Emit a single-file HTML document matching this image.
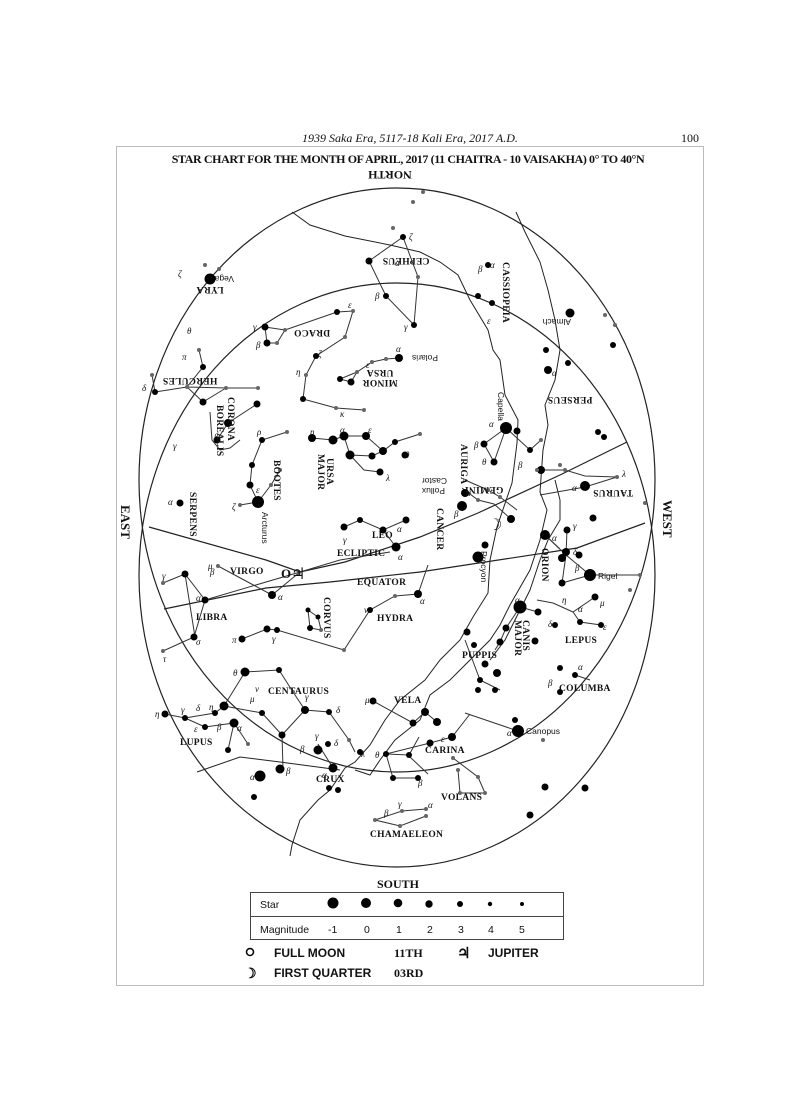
<!DOCTYPE html>
<html><head><meta charset="utf-8"><style>
html,body{margin:0;padding:0;background:#fff;}
svg{display:block;}
text{font-family:"Liberation Serif",serif;fill:#111;}
.s text, text.s{font-family:"Liberation Sans",sans-serif;}
.lb{font-size:9.5px;font-weight:bold;letter-spacing:0.3px;}
.g{font-size:9px;font-style:italic;}
</style></head><body>
<svg width="791" height="1119" viewBox="0 0 791 1119" xmlns="http://www.w3.org/2000/svg">
<text x="410" y="142" font-size="12" font-style="italic" text-anchor="middle">1939 Saka Era, 5117-18 Kali Era, 2017 A.D.</text>
<text x="690" y="142" font-size="12" text-anchor="middle">100</text>
<rect x="116.5" y="146.5" width="587" height="839" fill="none" stroke="#bbb" stroke-width="1"/>
<text x="408" y="163" font-size="12" font-weight="bold" text-anchor="middle" letter-spacing="-0.4">STAR CHART FOR THE MONTH OF APRIL, 2017 (11 CHAITRA - 10 VAISAKHA) 0° TO 40°N</text>
<text transform="translate(390,171) rotate(180)" font-size="12" font-weight="bold" text-anchor="middle">NORTH</text>

<g fill="none" stroke="#222" stroke-width="1.2">
<ellipse cx="397" cy="480" rx="258" ry="292"/>
<ellipse cx="397" cy="575" rx="258" ry="292"/>
<polyline points="149,527 266,560 300,572 345,562 420,537 478,513 560,475 627,442"/>
<polyline points="164,609 266,588 330,582 420,572 577,548 645,523"/>
<polyline stroke-width="1" points="292,212 310,225 345,236 390,245 420,252 440,262 458,275 470,300 488,330 493,350 500,360 505,395 518,420 517,443 512,483 497,527 490,560 488,593 473,617 460,640 440,660 425,680 400,700 385,720 370,745 355,762 345,768 330,790 318,800 300,820 292,845 290,856"/>
<polyline stroke-width="1" points="516,212 525,232 540,262 548,290 555,320 560,350 555,380 545,405 548,425 543,450 540,492 547,510 540,540 530,570 510,605 500,625 490,640 470,660 450,680 430,695 420,720 395,740 380,760 370,775 355,770"/>
<polyline stroke-width="1" points="197,772 240,757 280,762 340,770"/>
<polyline stroke-width="1" points="555,480 560,500 560,520 548,540 540,560 530,590 520,610 505,640 490,660"/>
</g>

<g fill="none" stroke="#333" stroke-width="1">
<polyline points="369,261 403,237 418,277 414,325 386,296 369,261"/>
<polyline points="265,327 285,330 277,343 267,343 265,327"/>
<polyline points="285,330 337,312 353,311 345,337 316,356 306,375 303,399 336,408 364,410"/>
<polyline points="399,358 386,359 372,362 357,372 340,379 351,382 357,372"/>
<polyline points="155,392 187,387 226,388 258,388"/>
<polyline points="199,350 203,367 187,387 203,402 226,388"/>
<polyline points="152,375 155,392"/>
<polyline points="257,404 228,423 217,440"/>
<polyline points="210,412 212,440 220,450 230,448 240,440"/>
<polyline points="258,502 250,485 252,465 262,440 287,432"/>
<polyline points="258,502 271,485 280,470"/>
<polyline points="240,505 258,502"/>
<polyline points="312,438 333,440 344,436 366,436 383,451 395,442 420,434"/>
<polyline points="344,436 350,455 372,456 383,451"/>
<polyline points="350,455 364,470 380,472"/>
<polyline points="506,428 494,462 484,444 506,428 530,450 541,440"/>
<polyline points="465,480 488,490 500,497 517,510"/>
<polyline points="462,488 478,500 494,504 511,519"/>
<polyline points="540,495 585,487 617,477"/>
<polyline points="537,470 565,470 585,476 617,477"/>
<polyline points="545,535 566,555 562,583 590,575 566,555 567,530"/>
<polyline points="545,535 560,549"/>
<polyline points="590,575 640,575"/>
<polyline points="520,607 538,612"/>
<polyline points="520,607 506,628 500,642 495,650"/>
<polyline points="537,600 553,603 573,612 595,597"/>
<polyline points="573,612 580,622 601,625"/>
<polyline points="344,527 360,520 383,530 406,520"/>
<polyline points="383,530 396,547"/>
<polyline points="218,566 272,595 300,572"/>
<polyline points="163,583 185,574 205,600 194,637 163,651"/>
<polyline points="185,574 195,637"/>
<polyline points="205,600 300,572 340,560 390,552"/>
<polyline points="308,610 318,617 321,630 310,628 308,610"/>
<polyline points="242,639 267,629 277,630 344,650"/>
<polyline points="344,650 370,610 395,596 418,594 428,565"/>
<polyline points="245,672 279,670 293,692 305,710 329,712 349,740 355,752"/>
<polyline points="245,672 224,706 262,713 282,735 283,769"/>
<polyline points="305,710 282,735"/>
<polyline points="165,714 185,718 215,713 224,706"/>
<polyline points="185,718 205,727 234,723 228,750"/>
<polyline points="234,723 248,744"/>
<polyline points="318,744 333,768"/>
<polyline points="373,701 413,723 425,712 437,722"/>
<polyline points="386,754 430,743 452,737 470,714"/>
<polyline points="386,754 393,778 418,778"/>
<polyline points="386,754 409,755 419,737"/>
<polyline points="410,757 428,774"/>
<polyline points="453,758 478,777 485,793 460,793 458,770"/>
<polyline points="375,820 402,811 426,809"/>
<polyline points="375,820 400,826 426,816"/>
<polyline points="518,731 465,713"/>
<polyline points="465,640 480,680 500,690"/>
<polyline points="575,675 590,680"/>
</g>

<g fill="#000">
<circle cx="210" cy="279" r="5.5"/><circle cx="399" cy="358" r="4"/><circle cx="369" cy="261" r="3.5"/>
<circle cx="403" cy="237" r="3"/><circle cx="414" cy="325" r="3"/><circle cx="386" cy="296" r="3"/>
<circle cx="265" cy="327" r="3.5"/><circle cx="267" cy="343" r="3.5"/><circle cx="337" cy="312" r="3"/>
<circle cx="316" cy="356" r="3"/><circle cx="303" cy="399" r="3"/><circle cx="351" cy="382" r="3.5"/>
<circle cx="340" cy="379" r="3"/><circle cx="155" cy="392" r="3"/><circle cx="203" cy="402" r="3.5"/>
<circle cx="203" cy="367" r="3"/><circle cx="257" cy="404" r="3.5"/><circle cx="228" cy="423" r="4"/>
<circle cx="217" cy="440" r="3.5"/><circle cx="258" cy="502" r="6"/><circle cx="252" cy="465" r="3"/>
<circle cx="250" cy="485" r="3.5"/><circle cx="262" cy="440" r="3"/><circle cx="180" cy="503" r="3.5"/>
<circle cx="312" cy="438" r="4"/><circle cx="333" cy="440" r="4.5"/><circle cx="344" cy="436" r="4.5"/>
<circle cx="366" cy="436" r="4"/><circle cx="383" cy="451" r="4"/><circle cx="350" cy="455" r="4.5"/>
<circle cx="372" cy="456" r="3.5"/><circle cx="395" cy="442" r="3"/><circle cx="380" cy="472" r="3.5"/>
<circle cx="405" cy="455" r="3.5"/><circle cx="506" cy="428" r="6"/><circle cx="494" cy="462" r="3.5"/>
<circle cx="484" cy="444" r="3.5"/><circle cx="517" cy="431" r="3.5"/><circle cx="530" cy="450" r="3"/>
<circle cx="541" cy="470" r="4"/><circle cx="465" cy="493" r="4"/><circle cx="462" cy="506" r="5"/>
<circle cx="511" cy="519" r="4"/><circle cx="478" cy="557" r="5.5"/><circle cx="485" cy="545" r="3.5"/>
<circle cx="585" cy="486" r="5"/><circle cx="593" cy="518" r="3.5"/><circle cx="545" cy="535" r="5"/>
<circle cx="567" cy="530" r="3.5"/><circle cx="566" cy="552" r="4"/><circle cx="562" cy="558" r="4"/>
<circle cx="579" cy="555" r="3.5"/><circle cx="590" cy="575" r="6"/><circle cx="562" cy="583" r="3.5"/>
<circle cx="570" cy="313" r="4.5"/><circle cx="548" cy="370" r="4"/><circle cx="568" cy="363" r="3"/>
<circle cx="488" cy="265" r="3"/><circle cx="478" cy="296" r="3"/><circle cx="492" cy="303" r="3"/>
<circle cx="520" cy="607" r="6.5"/><circle cx="538" cy="612" r="3.5"/><circle cx="506" cy="628" r="3.5"/>
<circle cx="500" cy="642" r="3.5"/><circle cx="535" cy="641" r="3.5"/><circle cx="595" cy="597" r="3.5"/>
<circle cx="601" cy="625" r="3"/><circle cx="555" cy="625" r="3"/><circle cx="580" cy="622" r="3"/>
<circle cx="344" cy="527" r="3.5"/><circle cx="360" cy="520" r="3"/><circle cx="383" cy="530" r="3.5"/>
<circle cx="406" cy="520" r="3.5"/><circle cx="396" cy="547" r="4.5"/><circle cx="272" cy="595" r="4"/>
<circle cx="185" cy="574" r="3.5"/><circle cx="205" cy="600" r="3.5"/><circle cx="194" cy="637" r="3.5"/>
<circle cx="308" cy="610" r="2.5"/><circle cx="318" cy="617" r="2.5"/><circle cx="310" cy="628" r="3"/>
<circle cx="242" cy="639" r="3.5"/><circle cx="267" cy="629" r="3.5"/><circle cx="277" cy="630" r="3"/>
<circle cx="370" cy="610" r="3"/><circle cx="418" cy="594" r="4"/><circle cx="245" cy="672" r="4.5"/>
<circle cx="279" cy="670" r="3"/><circle cx="224" cy="706" r="4.5"/><circle cx="262" cy="713" r="3"/>
<circle cx="282" cy="735" r="3.5"/><circle cx="305" cy="710" r="4"/><circle cx="329" cy="712" r="3"/>
<circle cx="360" cy="752" r="3"/><circle cx="165" cy="714" r="3.5"/><circle cx="185" cy="718" r="3"/>
<circle cx="215" cy="713" r="3"/><circle cx="234" cy="723" r="4.5"/><circle cx="205" cy="727" r="3"/>
<circle cx="228" cy="750" r="3"/><circle cx="260" cy="776" r="5.5"/><circle cx="280" cy="769" r="4.5"/>
<circle cx="333" cy="768" r="4.5"/><circle cx="318" cy="750" r="4.5"/><circle cx="328" cy="744" r="3"/>
<circle cx="329" cy="788" r="3"/><circle cx="338" cy="790" r="3"/><circle cx="254" cy="797" r="3"/>
<circle cx="518" cy="731" r="6"/><circle cx="515" cy="720" r="3"/><circle cx="373" cy="701" r="3.5"/>
<circle cx="413" cy="723" r="3.5"/><circle cx="425" cy="712" r="4"/><circle cx="437" cy="722" r="4"/>
<circle cx="452" cy="737" r="4"/><circle cx="430" cy="743" r="3.5"/><circle cx="386" cy="754" r="3"/>
<circle cx="393" cy="778" r="3"/><circle cx="418" cy="778" r="3"/><circle cx="409" cy="755" r="3"/>
<circle cx="467" cy="632" r="3.5"/><circle cx="474" cy="645" r="3"/><circle cx="485" cy="664" r="3.5"/>
<circle cx="497" cy="673" r="4"/><circle cx="478" cy="690" r="3"/><circle cx="495" cy="690" r="3"/>
<circle cx="480" cy="680" r="3"/><circle cx="545" cy="787" r="3.5"/><circle cx="585" cy="788" r="3.5"/>
<circle cx="530" cy="815" r="3.5"/><circle cx="560" cy="668" r="3"/><circle cx="575" cy="675" r="3"/>
<circle cx="560" cy="692" r="3"/><circle cx="598" cy="432" r="3"/><circle cx="604" cy="437" r="3"/>
<circle cx="613" cy="345" r="3"/><circle cx="546" cy="350" r="3"/>
</g>
<g fill="#666">
<circle cx="423" cy="192" r="2"/><circle cx="413" cy="202" r="2"/><circle cx="393" cy="228" r="2"/>
<circle cx="418" cy="277" r="2"/><circle cx="219" cy="269" r="2"/><circle cx="205" cy="265" r="2"/>
<circle cx="277" cy="343" r="2"/><circle cx="285" cy="330" r="2"/><circle cx="353" cy="311" r="2"/>
<circle cx="345" cy="337" r="2"/><circle cx="306" cy="375" r="2"/><circle cx="336" cy="408" r="2"/>
<circle cx="364" cy="410" r="2"/><circle cx="386" cy="359" r="2"/><circle cx="372" cy="362" r="2"/>
<circle cx="357" cy="372" r="2"/><circle cx="199" cy="350" r="2"/><circle cx="187" cy="387" r="2"/>
<circle cx="226" cy="388" r="2"/><circle cx="258" cy="388" r="2"/><circle cx="152" cy="375" r="2"/>
<circle cx="240" cy="505" r="2"/><circle cx="287" cy="432" r="2"/><circle cx="271" cy="485" r="2"/>
<circle cx="280" cy="470" r="2"/><circle cx="420" cy="434" r="2"/><circle cx="541" cy="440" r="2"/>
<circle cx="488" cy="490" r="2"/><circle cx="500" cy="497" r="2"/><circle cx="478" cy="500" r="2"/>
<circle cx="537" cy="470" r="2"/><circle cx="565" cy="470" r="2"/><circle cx="617" cy="477" r="2"/>
<circle cx="218" cy="566" r="2"/><circle cx="163" cy="583" r="2"/><circle cx="163" cy="651" r="2"/>
<circle cx="321" cy="630" r="2"/><circle cx="344" cy="650" r="2"/><circle cx="395" cy="596" r="2"/>
<circle cx="293" cy="692" r="2"/><circle cx="349" cy="740" r="2"/><circle cx="248" cy="744" r="2"/>
<circle cx="402" cy="811" r="2"/><circle cx="426" cy="809" r="2"/><circle cx="375" cy="820" r="2"/>
<circle cx="400" cy="826" r="2"/><circle cx="426" cy="816" r="2"/><circle cx="453" cy="758" r="2"/>
<circle cx="478" cy="777" r="2"/><circle cx="485" cy="793" r="2"/><circle cx="460" cy="793" r="2"/>
<circle cx="458" cy="770" r="2"/><circle cx="543" cy="740" r="2"/><circle cx="640" cy="575" r="2"/>
<circle cx="605" cy="315" r="2"/><circle cx="615" cy="325" r="2"/><circle cx="630" cy="590" r="2"/>
<circle cx="560" cy="465" r="2"/><circle cx="645" cy="503" r="2"/>
</g>

<g class="lb">
<text transform="translate(406,258) rotate(180)" text-anchor="middle">CEPHEUS</text>
<text transform="translate(210,287) rotate(180)" text-anchor="middle">LYRA</text>
<text transform="translate(312,330) rotate(180)" text-anchor="middle">DRACO</text>
<text transform="translate(380,370) rotate(180)" text-anchor="middle">URSA</text>
<text transform="translate(380,380) rotate(180)" text-anchor="middle">MINOR</text>
<text transform="translate(190,378) rotate(180)" text-anchor="middle">HERCULES</text>
<text transform="translate(228,397) rotate(90)">CORONA</text>
<text transform="translate(217,405) rotate(90)">BOREALIS</text>
<text transform="translate(274,460) rotate(90)">BOOTES</text>
<text transform="translate(327,458) rotate(90)">URSA</text>
<text transform="translate(318,454) rotate(90)">MAJOR</text>
<text transform="translate(190,492) rotate(90)">SERPENS</text>
<text transform="translate(503,262) rotate(90)">CASSIOPEIA</text>
<text transform="translate(570,397) rotate(180)" text-anchor="middle">PERSEUS</text>
<text transform="translate(461,444) rotate(90)">AURIGA</text>
<text transform="translate(484,487) rotate(180)" text-anchor="middle">GEMINI</text>
<text transform="translate(613,490) rotate(180)" text-anchor="middle">TAURUS</text>
<text transform="translate(437,508) rotate(90)">CANCER</text>
<text transform="translate(542,548) rotate(90)">ORION</text>
<text transform="translate(523,620) rotate(90)">CANIS</text>
<text transform="translate(515,620) rotate(90)">MAJOR</text>
<text transform="translate(324,597) rotate(90)">CORVUS</text>
<text x="337" y="556">ECLIPTIC</text>
<text x="372" y="538">LEO</text>
<text x="230" y="574">VIRGO</text>
<text x="357" y="585">EQUATOR</text>
<text x="377" y="621">HYDRA</text>
<text x="196" y="620">LIBRA</text>
<text x="268" y="694">CENTAURUS</text>
<text x="394" y="703">VELA</text>
<text x="462" y="658">PUPPIS</text>
<text x="559" y="691">COLUMBA</text>
<text x="565" y="643">LEPUS</text>
<text x="180" y="745">LUPUS</text>
<text x="425" y="753">CARINA</text>
<text x="316" y="782">CRUX</text>
<text x="441" y="800">VOLANS</text>
<text x="370" y="837">CHAMAELEON</text>
</g>
<g class="s" font-size="8.5">
<text transform="translate(234,276) rotate(180)">Vega</text>
<text transform="translate(438,355) rotate(180)">Polaris</text>
<text transform="translate(571,319) rotate(180)">Almach</text>
<text transform="translate(447,478) rotate(180)">Castor</text>
<text transform="translate(445,488) rotate(180)">Pollux</text>
<text transform="translate(498,392) rotate(90)">Capella</text>
<text transform="translate(481,551) rotate(90)">Procyon</text>
<text transform="translate(262,512) rotate(90)">Arcturus</text>
<text x="598" y="579">Rigel</text>
<text x="526" y="734">Canopus</text>
</g>
<g class="g">
<text x="178" y="277">ζ</text><text x="395" y="266">α</text><text x="409" y="240">ζ</text><text x="375" y="299">β</text><text x="404" y="330">γ</text>
<text x="253" y="330">γ</text><text x="256" y="348">β</text><text x="348" y="308">ε</text><text x="318" y="357">ζ</text><text x="296" y="375">η</text>
<text x="340" y="417">κ</text><text x="396" y="352">α</text><text x="366" y="368">ε</text><text x="187" y="334">θ</text><text x="142" y="391">δ</text>
<text x="182" y="360">π</text><text x="257" y="435">ρ</text><text x="173" y="449">γ</text><text x="214" y="440">β</text>
<text x="256" y="493">ε</text><text x="232" y="510">ζ</text><text x="168" y="505">α</text><text x="310" y="435">η</text>
<text x="340" y="433">α</text><text x="368" y="433">ε</text><text x="405" y="458">θ</text><text x="386" y="481">λ</text>
<text x="489" y="427">α</text><text x="474" y="448">β</text><text x="482" y="465">θ</text><text x="518" y="468">β</text>
<text x="478" y="272">β</text><text x="490" y="268">α</text><text x="487" y="324">ε</text><text x="552" y="376">α</text>
<text x="572" y="491">α</text><text x="622" y="477">λ</text><text x="466" y="496">α</text><text x="454" y="517">β</text>
<text x="552" y="541">α</text><text x="573" y="529">γ</text><text x="573" y="555">δ</text><text x="575" y="571">β</text>
<text x="515" y="603">α</text><text x="562" y="603">η</text><text x="600" y="606">μ</text><text x="578" y="612">α</text>
<text x="603" y="630">ε</text><text x="548" y="627">δ</text><text x="343" y="543">γ</text><text x="398" y="560">α</text>
<text x="397" y="532">α</text><text x="208" y="569">μ</text><text x="278" y="600">α</text><text x="162" y="579">γ</text>
<text x="210" y="575">β</text><text x="196" y="601">α</text><text x="196" y="645">σ</text><text x="163" y="662">τ</text>
<text x="232" y="643">π</text><text x="272" y="642">γ</text><text x="420" y="604">α</text><text x="364" y="613">ν</text>
<text x="233" y="676">θ</text><text x="209" y="710">η</text><text x="155" y="717">η</text><text x="181" y="713">γ</text>
<text x="196" y="711">δ</text><text x="194" y="732">ε</text><text x="217" y="730">β</text><text x="237" y="731">α</text>
<text x="250" y="702">μ</text><text x="255" y="692">ν</text><text x="305" y="700">γ</text><text x="336" y="713">δ</text>
<text x="300" y="752">β</text><text x="315" y="739">γ</text><text x="334" y="746">δ</text><text x="361" y="757">λ</text>
<text x="322" y="778">α</text><text x="250" y="780">α</text><text x="286" y="774">β</text><text x="365" y="703">μ</text>
<text x="507" y="736">α</text><text x="441" y="742">ε</text><text x="375" y="758">θ</text><text x="418" y="786">β</text>
<text x="384" y="816">β</text><text x="398" y="807">γ</text><text x="428" y="808">α</text><text x="578" y="670">α</text>
<text x="548" y="686">β</text>
</g>
<text x="281" y="578" font-size="13" font-weight="bold">O</text>
<text x="291" y="579" font-size="16" font-family="'DejaVu Sans',sans-serif">♃</text>
<text x="488" y="530" font-size="16" font-family="'DejaVu Sans',sans-serif">☽</text>
<text transform="translate(121,505) rotate(90)" font-size="13" font-weight="bold">EAST</text>
<text transform="translate(663,500) rotate(90)" font-size="13" font-weight="bold">WEST</text>

<text x="398" y="888" font-size="12" font-weight="bold" text-anchor="middle">SOUTH</text>
<rect x="250.5" y="892.5" width="313" height="47" fill="none" stroke="#444"/>
<line x1="250" y1="916.5" x2="564" y2="916.5" stroke="#444"/>
<g class="s" font-size="10.5">
<text x="260" y="908">Star</text>
<text x="260" y="933">Magnitude</text>
<text x="328" y="933">-1</text><text x="364" y="933">0</text><text x="396" y="933">1</text>
<text x="427" y="933">2</text><text x="458" y="933">3</text><text x="488" y="933">4</text><text x="519" y="933">5</text>
</g>
<circle cx="333" cy="903" r="5.5"/><circle cx="366" cy="903" r="5"/><circle cx="398" cy="903" r="4.3"/>
<circle cx="429" cy="904" r="3.7"/><circle cx="460" cy="904" r="3"/><circle cx="490" cy="904" r="2.2"/><circle cx="522" cy="904" r="2"/>
<circle cx="250" cy="952" r="3.5" fill="none" stroke="#000" stroke-width="1.5"/>
<g class="s" font-size="12" font-weight="bold">
<text x="274" y="957">FULL  MOON</text>
<text x="274" y="977">FIRST QUARTER</text>
<text x="488" y="957">JUPITER</text>
</g>
<text x="394" y="957" font-size="12" font-weight="bold">11TH</text>
<text x="394" y="977" font-size="12" font-weight="bold">03RD</text>
<text x="457" y="958" font-size="15" font-family="'DejaVu Sans',sans-serif" font-weight="bold">♃</text>
<text x="244" y="978" font-size="14" font-family="'DejaVu Sans',sans-serif" font-weight="bold">☽</text>
</svg>
</body></html>
